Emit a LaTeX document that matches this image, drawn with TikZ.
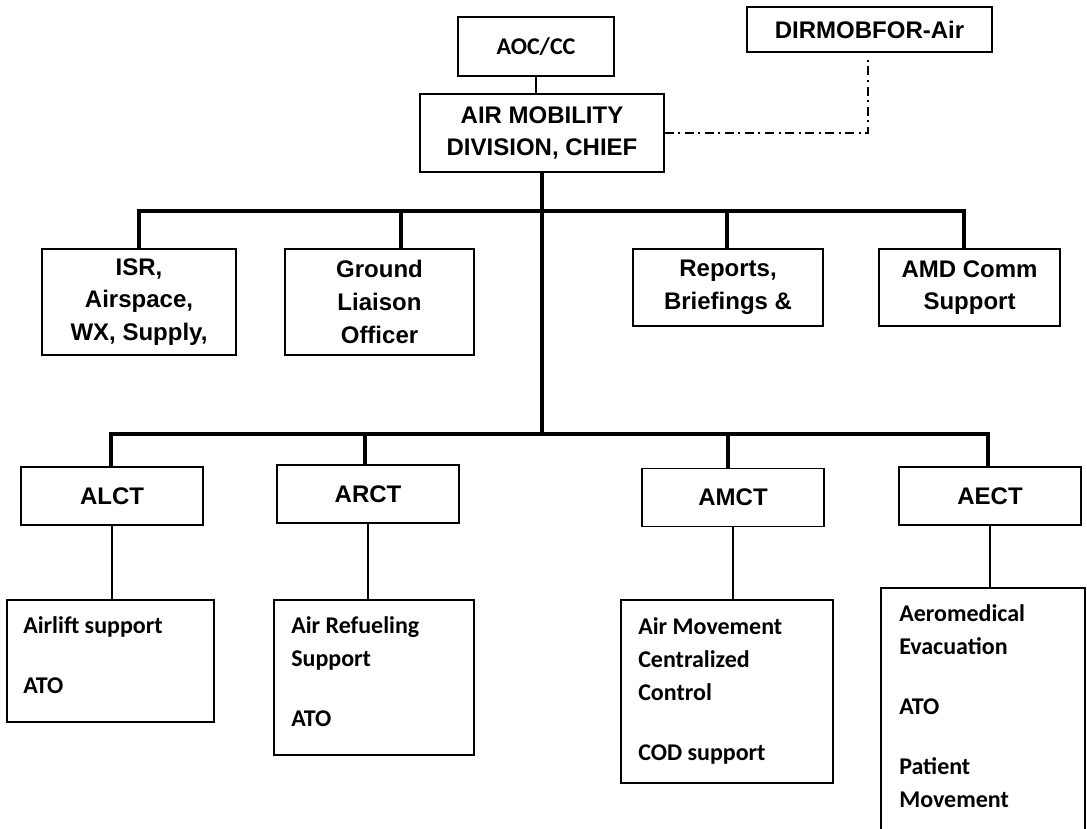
\documentclass[tikz,border=0pt]{standalone}
\usepackage{fontspec}
\newfontfamily\arialf{Liberation Sans}
\newfontfamily\calf{Carlito}
\begin{document}
\begin{tikzpicture}[x=0.75pt,y=-0.75pt,
  box/.style={draw, line width=1pt, inner sep=0pt, align=center,
    font=\arialf\bfseries\fontsize{18pt}{24.5pt}\selectfont},
  cbox/.style={draw, line width=1pt, inner sep=0pt},
  ctext/.style={inner sep=0pt, anchor=north west, align=left,
    font=\calf\bfseries\fontsize{18pt}{25pt}\selectfont},
  bus/.style={line width=3.2pt},
  conn/.style={line width=2.1pt},
  thinconn/.style={line width=1.1pt},
  dashdot/.style={line width=1pt, dash pattern=on 6.75pt off 3.4pt on 1.5pt off 3.4pt}]
\useasboundingbox (0,0) rectangle (1087,828);
\clip (0,0) rectangle (1087,828);
\fill[white] (0,0) rectangle (1087,828);

% top
\node[box, minimum width=117pt, minimum height=44.25pt, font=\calf\bfseries\fontsize{18pt}{24pt}\selectfont] (aoc) at (536,46.5) {AOC/CC};
\node[box, minimum width=183pt, minimum height=58.5pt] (amd) at (542,133) {AIR MOBILITY\\DIVISION, CHIEF};
\node[box, minimum width=183.75pt, minimum height=33.75pt] (dir) at (869.5,29.5) {DIRMOBFOR-Air};
\coordinate (dirend) at (868,58);
\draw[thinconn] (aoc.south) -- (aoc.south |- amd.north);
\draw[dashdot] (amd.east) -| (dirend);

% middle row
\node[box, minimum width=145.5pt, minimum height=79.5pt] (isr) at (139,302) {ISR,\\Airspace,\\WX, Supply,};
\node[box, minimum width=141.75pt, minimum height=79.5pt] (gnd) at (379.5,302) {Ground\\Liaison\\Officer};
\node[box, minimum width=142.5pt, minimum height=57.75pt] (rep) at (728,287.5) {Reports,\\Briefings \&};
\node[box, minimum width=135.75pt, minimum height=57.75pt] (comm) at (969.5,287.5) {AMD Comm\\Support};

\coordinate (ubL) at (139,211);
\coordinate (ubG) at (401,211);
\coordinate (ubT) at (543,211);
\coordinate (ubP) at (727,211);
\coordinate (ubR) at (964,211);
\draw[bus] (ubL |- isr.north) -- (ubL) -- (ubR) -- (ubR |- comm.north);
\draw[bus] (ubG) -- (ubG |- gnd.north);
\draw[bus] (ubP) -- (ubP |- rep.north);

% lower row
\node[box, minimum width=136.5pt, minimum height=43.5pt] (alct) at (112,496) {ALCT};
\node[box, minimum width=136.5pt, minimum height=43.5pt] (arct) at (368,494) {ARCT};
\node[box, minimum width=136.5pt, minimum height=43.5pt] (amct) at (733,497.5) {AMCT};
\node[box, minimum width=136.5pt, minimum height=43.5pt] (aect) at (990,496) {AECT};

\coordinate (lbL) at (111,434);
\coordinate (lbA) at (365,434);
\coordinate (lbM) at (728,434);
\coordinate (lbR) at (988,434);
\draw[bus] (amd.south) -- (amd.south |- lbL);
\draw[bus] (lbL |- alct.north) -- (lbL) -- (lbR) -- (lbR |- aect.north);
\draw[bus] (lbA) -- (lbA |- arct.north);
\draw[bus] (lbM) -- (lbM |- amct.north);

% detail boxes
\node[cbox, minimum width=155.25pt, minimum height=91.5pt] (airlift) at (110.5,661) {};
\node[cbox, minimum width=150pt, minimum height=116.25pt] (refuel) at (374,677.5) {};
\node[cbox, minimum width=159pt, minimum height=137.25pt] (amove) at (727,691.5) {};
\node[cbox, minimum width=153pt, minimum height=211.5pt] (aemed) at (983,729) {};

\node[ctext] (airlifttxt) at (23,616) {Airlift support\\[20pt]ATO};
\node[ctext] (refueltxt) at (291,616) {Air Refueling\\Support\\[20pt]ATO};
\node[ctext] (amovetxt) at (638,617) {Air Movement\\Centralized\\Control\\[20pt]COD support};
\node[ctext] (aemedtxt) at (899,604) {Aeromedical\\Evacuation\\[20pt]ATO\\[20pt]Patient\\Movement};

\draw[conn] (alct.south) -- (alct.south |- airlift.north);
\draw[conn] (arct.south) -- (arct.south |- refuel.north);
\draw[conn] (amct.south) -- (amct.south |- amove.north);
\draw[conn] (aect.south) -- (aect.south |- aemed.north);
\end{tikzpicture}
\end{document}
